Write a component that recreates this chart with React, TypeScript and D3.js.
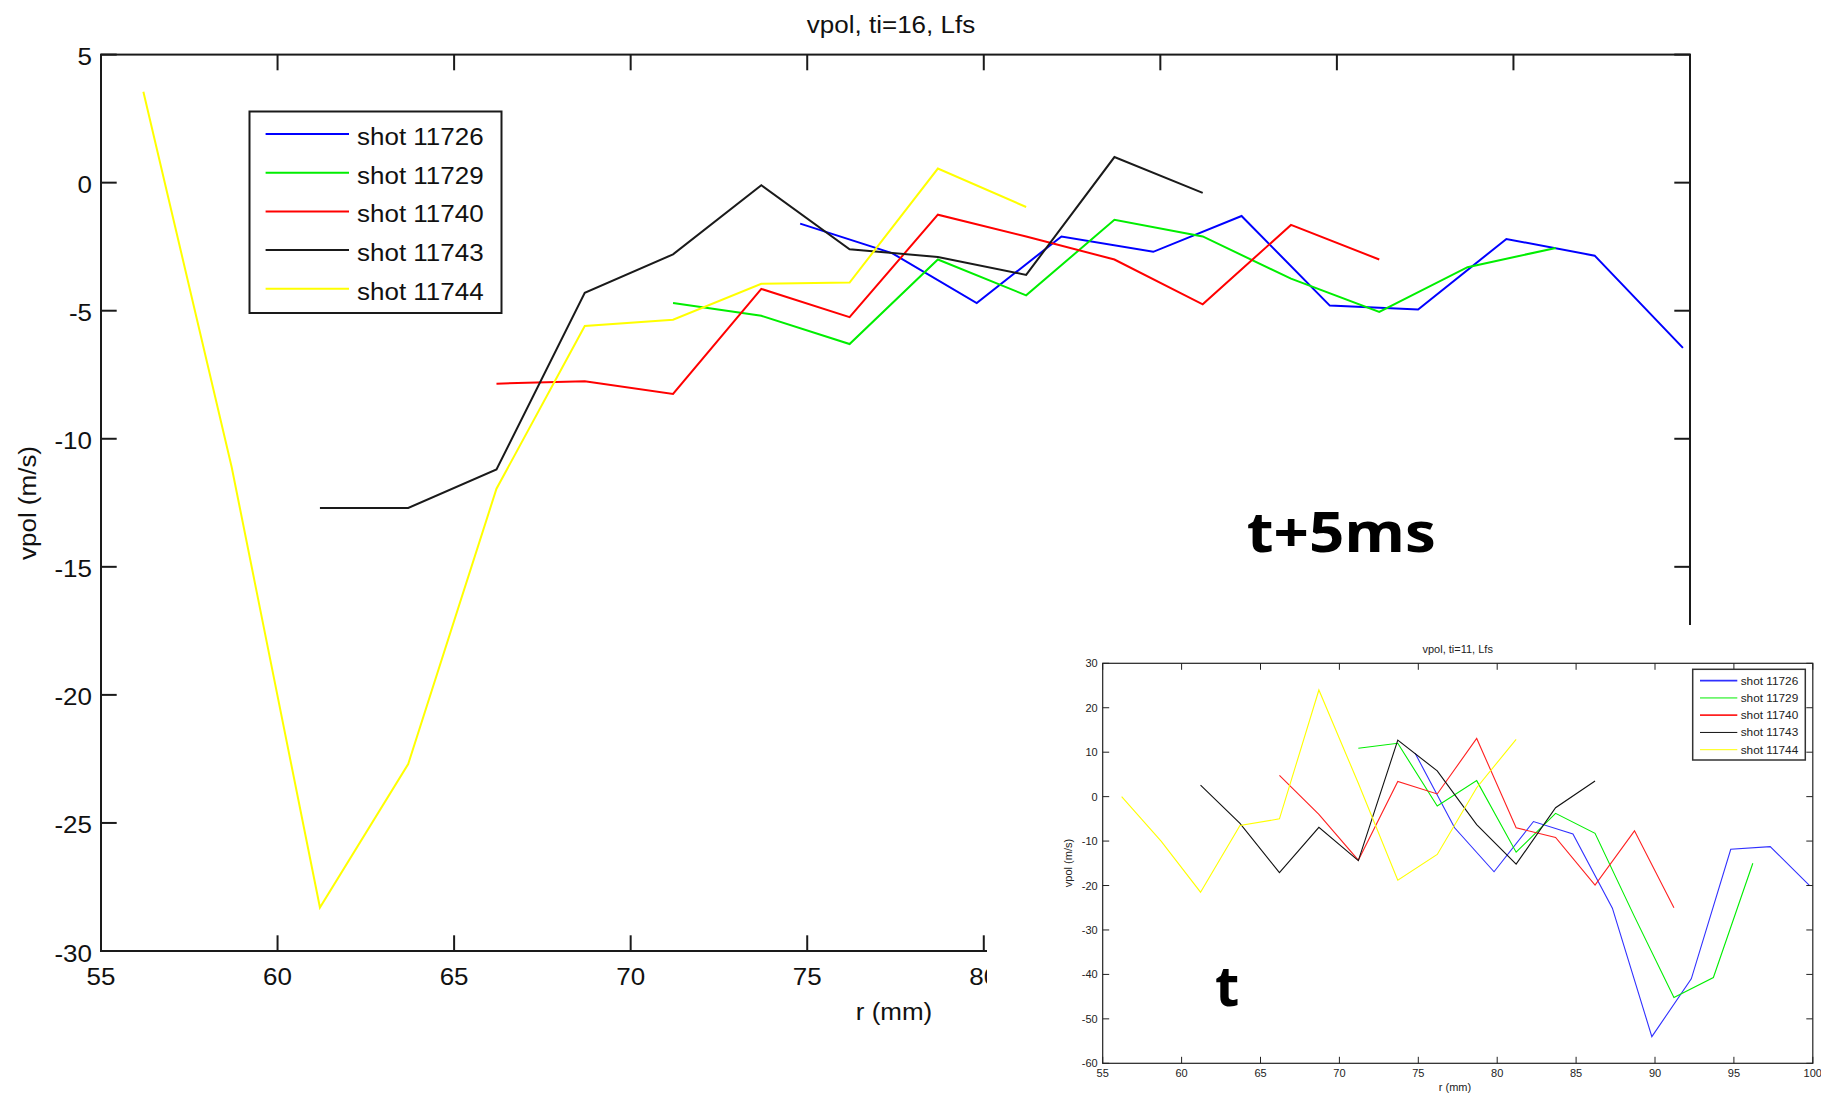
import React from "react";
import * as d3 from "d3";

// ---------- data: main chart (t+5ms, ti=16) ----------
const shotLabels = ["shot 11726", "shot 11729", "shot 11740", "shot 11743", "shot 11744"];
const shotColors = ["#0000ff", "#00ee00", "#ff0000", "#1a1a1a", "#ffff00"];

const main11726R = [74.8, 77.4, 79.8, 82.2, 84.8, 87.3, 89.8, 92.3, 94.8, 97.3, 99.8];
const main11726V = [-1.6, -2.75, -4.7, -2.1, -2.7, -1.3, -4.8, -4.95, -2.2, -2.85, -6.45];
const main11729R = [71.2, 73.7, 76.2, 78.7, 81.2, 83.7, 86.2, 88.7, 91.2, 93.7, 96.2];
const main11729V = [-4.7, -5.2, -6.3, -3.0, -4.4, -1.45, -2.1, -3.75, -5.05, -3.3, -2.55];
const main11740R = [66.2, 68.7, 71.2, 73.7, 76.2, 78.7, 81.2, 83.7, 86.2, 88.7, 91.2];
const main11740V = [-7.85, -7.75, -8.25, -4.15, -5.25, -1.25, -2.1, -3.0, -4.75, -1.65, -3.0];
const main11743R = [61.2, 63.7, 66.2, 68.7, 71.2, 73.7, 76.2, 78.7, 81.2, 83.7, 86.2];
const main11743V = [-12.7, -12.7, -11.2, -4.3, -2.8, -0.1, -2.6, -2.9, -3.6, 1.0, -0.4];
const main11744R = [56.2, 58.7, 61.2, 63.7, 66.2, 68.7, 71.2, 73.7, 76.2, 78.7, 81.2];
const main11744V = [3.55, -11.1, -28.3, -22.7, -11.95, -5.6, -5.35, -3.95, -3.9, 0.55, -0.95];

const mainXTicks = [55, 60, 65, 70, 75, 80, 85, 90, 95, 100];
const mainYTicks = [5, 0, -5, -10, -15, -20, -25, -30];

// ---------- data: inset chart (t, ti=11) ----------
const in11726R = [74.8, 77.3, 79.8, 82.3, 84.8, 87.3, 89.8, 92.3, 94.8, 97.3, 99.8];
const in11726V = [9.75, -7, -16.9, -5.6, -8.4, -25.1, -54, -41, -11.85, -11.25, -20];
const in11729R = [71.2, 73.7, 76.2, 78.7, 81.2, 83.7, 86.2, 88.7, 91.2, 93.7, 96.2];
const in11729V = [10.9, 12, -2.1, 3.6, -12.5, -3.75, -8.25, -27, -45.2, -40.7, -15];
const in11740R = [66.2, 68.7, 71.2, 73.7, 76.2, 78.7, 81.2, 83.7, 86.2, 88.7, 91.2];
const in11740V = [4.8, -4, -14.3, 3.4, 0.6, 13.1, -7, -9.2, -19.9, -7.7, -25];
const in11743R = [61.2, 63.7, 66.2, 68.7, 71.2, 73.7, 76.2, 78.7, 81.2, 83.7, 86.2];
const in11743V = [2.6, -6, -17.1, -6.9, -14.4, 12.7, 5.8, -6.3, -15.2, -2.5, 3.5];
const in11744R = [56.2, 58.7, 61.2, 63.7, 66.2, 68.7, 71.2, 73.7, 76.2, 78.7, 81.2];
const in11744V = [0, -10, -21.5, -6.5, -5, 24, 3, -18.8, -13, 2, 12.9];

const inXTicks = [55, 60, 65, 70, 75, 80, 85, 90, 95, 100];
const inYTicks = [30, 20, 10, 0, -10, -20, -30, -40, -50, -60];

const mainSeries = [
  { r: main11726R, v: main11726V },
  { r: main11729R, v: main11729V },
  { r: main11740R, v: main11740V },
  { r: main11743R, v: main11743V },
  { r: main11744R, v: main11744V },
];
const inSeries = [
  { r: in11726R, v: in11726V },
  { r: in11729R, v: in11729V },
  { r: in11740R, v: in11740V },
  { r: in11743R, v: in11743V },
  { r: in11744R, v: in11744V },
];
const inColors = ["#3030ff", "#00ee00", "#ff2020", "#111111", "#ffff00"];

const FONT = "'Liberation Sans', Arial, Helvetica, sans-serif";
const SX = 1.13;

function SText(props: { x: number; y: number; anchor?: string; size?: number; children: any; rotate?: number }) {
  const { x, y, anchor = "start", size = 23, children, rotate = 0 } = props;
  const tf = rotate
    ? `translate(${x},${y}) rotate(${rotate}) scale(${SX},1)`
    : `translate(${x},${y}) scale(${SX},1)`;
  return (
    <g transform={tf}>
      <text x={0} y={0} textAnchor={anchor as any} fontSize={size} fontFamily={FONT} fill="#111">
        {children}
      </text>
    </g>
  );
}

export default function App() {
  const x = d3.scaleLinear().domain([55, 100]).range([101, 1690]);
  const y = d3.scaleLinear().domain([-30, 5]).range([951, 54.6]);
  const xi = d3.scaleLinear().domain([55, 100]).range([1102.7, 1812.8]);
  const yi = d3.scaleLinear().domain([-60, 30]).range([1063.3, 663.3]);

  const lineMain = (s: { r: number[]; v: number[] }) =>
    d3.line<number>().x((_, i) => x(s.r[i])).y((d) => y(d))(s.v) || "";
  const lineIn = (s: { r: number[]; v: number[] }) =>
    d3.line<number>().x((_, i) => xi(s.r[i])).y((d) => yi(d))(s.v) || "";

  const L = x(55), R = x(100), T = y(5), B = y(-30);
  const tk = 15.7;
  const iL = xi(55), iR = xi(100), iT = yi(30), iB = yi(-60);
  const itk = 6.5;

  const legRow0 = 134, legStep = 38.7;
  const iLegRow0 = 680.7, iLegStep = 17.25;

  return (
    <svg width={1821} height={1098} style={{ position: "absolute", left: 0, top: 0, background: "#fff" }}>
      <rect x={0} y={0} width={1821} height={1098} fill="#fff" />

      {/* ---------- main chart ---------- */}
      <SText x={891} y={33} anchor="middle">vpol, ti=16, Lfs</SText>

      {mainSeries.map((s, i) => (
        <path key={i} d={lineMain(s)} fill="none" stroke={shotColors[i]} strokeWidth={2} />
      ))}

      {/* frame */}
      <rect x={L} y={T} width={R - L} height={B - T} fill="none" stroke="#1a1a1a" strokeWidth={2} />
      {mainXTicks.map((t) => (
        <g key={"mx" + t}>
          <line x1={x(t)} x2={x(t)} y1={B} y2={B - tk} stroke="#1a1a1a" strokeWidth={2} />
          <line x1={x(t)} x2={x(t)} y1={T} y2={T + tk} stroke="#1a1a1a" strokeWidth={2} />
          <SText x={x(t)} y={B + 33.5} anchor="middle">{String(t)}</SText>
        </g>
      ))}
      {mainYTicks.map((t) => (
        <g key={"my" + t}>
          <line x1={L} x2={L + tk} y1={y(t)} y2={y(t)} stroke="#1a1a1a" strokeWidth={2} />
          <line x1={R} x2={R - tk} y1={y(t)} y2={y(t)} stroke="#1a1a1a" strokeWidth={2} />
          <SText x={92} y={y(t) + 10.5} anchor="end">{String(t)}</SText>
        </g>
      ))}
      <SText x={894} y={1020} anchor="middle">r (mm)</SText>
      <SText x={35.5} y={503} anchor="middle" rotate={-90}>vpol (m/s)</SText>

      {/* main legend */}
      <rect x={249.5} y={111.5} width={252} height={201.5} fill="#fff" stroke="#1a1a1a" strokeWidth={2} />
      {shotLabels.map((lab, i) => (
        <g key={"leg" + i}>
          <line x1={265.6} x2={349} y1={legRow0 + i * legStep} y2={legRow0 + i * legStep} stroke={shotColors[i]} strokeWidth={2} />
          <SText x={357} y={legRow0 + i * legStep + 11}>{lab}</SText>
        </g>
      ))}

      {/* big label */}
      <text x={1246.7} y={551.7} fontFamily="'Open Sans', 'DejaVu Sans', sans-serif" fontWeight={700} fontSize={56}
        textLength={189} lengthAdjust="spacingAndGlyphs" fill="#000">t+5ms</text>

      {/* ---------- inset (pasted picture) ---------- */}
      <rect x={987} y={625} width={834} height={473} fill="#fff" />
      <text x={1457.7} y={653} textAnchor="middle" fontFamily={FONT} fontSize={11} fill="#222">vpol, ti=11, Lfs</text>

      {inSeries.map((s, i) => (
        <path key={"in" + i} d={lineIn(s)} fill="none" stroke={inColors[i]} strokeWidth={1.1} />
      ))}

      <rect x={iL} y={iT} width={iR - iL} height={iB - iT} fill="none" stroke="#222" strokeWidth={1.2} />
      {inXTicks.map((t) => (
        <g key={"ix" + t}>
          <line x1={xi(t)} x2={xi(t)} y1={iB} y2={iB - itk} stroke="#222" strokeWidth={1} />
          <line x1={xi(t)} x2={xi(t)} y1={iT} y2={iT + itk} stroke="#222" strokeWidth={1} />
          <text x={xi(t)} y={iB + 13.7} textAnchor="middle" fontFamily={FONT} fontSize={11} fill="#222">{String(t)}</text>
        </g>
      ))}
      {inYTicks.map((t) => (
        <g key={"iy" + t}>
          <line x1={iL} x2={iL + itk} y1={yi(t)} y2={yi(t)} stroke="#222" strokeWidth={1} />
          <line x1={iR} x2={iR - itk} y1={yi(t)} y2={yi(t)} stroke="#222" strokeWidth={1} />
          <text x={iL - 5} y={yi(t) + 4} textAnchor="end" fontFamily={FONT} fontSize={11} fill="#222">{String(t)}</text>
        </g>
      ))}
      <text x={1455} y={1091} textAnchor="middle" fontFamily={FONT} fontSize={11} fill="#222">r (mm)</text>
      <text transform={`translate(1072,863) rotate(-90)`} textAnchor="middle" fontFamily={FONT} fontSize={11} fill="#222">vpol (m/s)</text>

      {/* inset legend */}
      <rect x={1692.7} y={669.3} width={112.6} height={90.7} fill="#fff" stroke="#333" strokeWidth={1.5} />
      {shotLabels.map((lab, i) => (
        <g key={"ileg" + i}>
          <line x1={1700} x2={1737.3} y1={iLegRow0 + i * iLegStep} y2={iLegRow0 + i * iLegStep}
            stroke={inColors[i]} strokeWidth={i === 0 || i === 2 ? 1.8 : 1} />
          <text x={1740.7} y={iLegRow0 + i * iLegStep + 4} fontFamily={FONT} fontSize={11.8} fill="#222">{lab}</text>
        </g>
      ))}

      <text x={1215} y={1006} fontFamily="'Open Sans', 'DejaVu Sans', sans-serif" fontWeight={700} fontSize={56} fill="#000">t</text>
    </svg>
  );
}
